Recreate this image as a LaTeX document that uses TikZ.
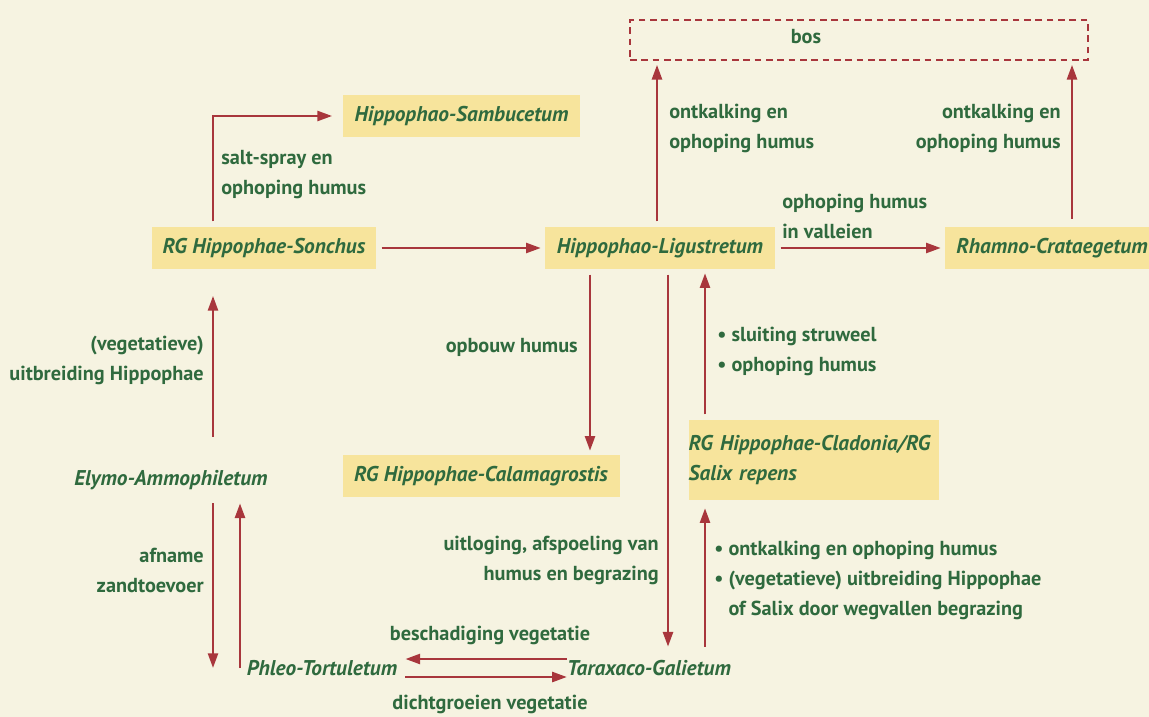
\documentclass[tikz,border=0pt]{standalone}
\usepackage{fontspec}
\setmainfont{PT Sans}
\usetikzlibrary{arrows.meta,positioning}
\definecolor{paper}{HTML}{F6F3E1}
\definecolor{vegfill}{HTML}{F7E49C}
\definecolor{leaf}{HTML}{2F6A3E}
\definecolor{rust}{HTML}{A8363C}
\newcommand{\duinfont}{\fontsize{15.2}{22.5}\selectfont\bfseries}
\newcommand{\typefont}{\fontsize{16}{22.5}\selectfont\bfseries\itshape}
\tikzset{
  veg/.style={fill=vegfill,text=leaf,font=\typefont,inner sep=0pt,minimum height=31.5pt},
  vname/.style={text=leaf,font=\typefont,inner sep=0pt},
  vnote/.style={text=leaf,inner sep=0pt},
  vbos/.style={draw=rust,line width=1.3pt,dash pattern=on 5pt off 3.5pt,minimum width=343.5pt,minimum height=30pt,inner sep=0pt},
  varr/.style={-{Triangle[length=11pt,width=7.5pt]},line width=1.8pt,draw=rust,shorten <=4pt,shorten >=3pt}
}

\begin{document}
\begin{tikzpicture}[x=0.75pt,y=-0.75pt,font=\duinfont]
  \fill[paper] (0,0) rectangle (1149,717);
  \useasboundingbox (0,0) rectangle (1149,717);

  % columns of the vertical arrows
  \coordinate (colA) at (213,0);
  \coordinate (colB) at (240,0);
  \coordinate (colC) at (590,0);
  \coordinate (colD) at (657,0);
  \coordinate (colE) at (668,0);
  \coordinate (colF) at (705,0);
  \coordinate (colG) at (1072,0);

  % vegetation types
  \node[vbos] (bos) at (859,40) {};
  \node[vnote] (boslbl) at (806,37) {bos};
  \node[veg,minimum width=177.75pt] (sambu) at (461.5,116) {Hippophao-Sambucetum};
  \node[veg,minimum width=168pt] (sonchus) at (264,248) {RG Hippophae-Sonchus};
  \node[veg,minimum width=172.5pt] (lig) at (660,248) {Hippophao-Ligustretum};
  \node[veg,minimum width=160.5pt] (rhamno) at (1052,248) {Rhamno-Crataegetum};
  \node[veg,minimum width=207.75pt] (calam) at (481,476) {RG Hippophae-Calamagrostis};
  \node[veg,minimum height=60pt,text width=188pt,align=left] (clad) at (814,460)
    {RG Hippophae-Cladonia/RG\\Salix repens};
  \node[vname] (elymo) at (171,480) {Elymo-Ammophiletum};
  \node[vname] (phleo) at (322,668) {Phleo-Tortuletum};
  \node[vname] (tarax) at (649,668) {Taraxaco-Galietum};

  % processes
  \node[vnote,anchor=west,align=left] (salt) at (221,175) {salt-spray en\\ophoping humus};
  \node[vnote,anchor=west,align=left] (ontkA) at (669,128) {ontkalking en\\ophoping humus};
  \node[vnote,anchor=east,align=right] (ontkB) at (1061,128) {ontkalking en\\ophoping humus};
  \node[vnote,anchor=west,align=left] (vall) at (782,216) {ophoping humus\\in valleien};
  \node[vnote,anchor=east] (opbouw) at (578,347) {opbouw humus};
  \node[vnote,anchor=east,align=right] (uitl) at (659,560) {uitloging, afspoeling van\\humus en begrazing};
  \node[vnote,anchor=west,align=left] (sluit) at (717,351) {\textbullet\ sluiting struweel\\\textbullet\ ophoping humus};
  \node[vnote,anchor=west,align=left] (ontkC) at (714,580)
    {\textbullet\ ontkalking en ophoping humus\\\textbullet\ (vegetatieve) uitbreiding Hippophae\\\phantom{\textbullet\ }of Salix door wegvallen begrazing};
  \node[vnote,anchor=east,align=right] (uitbr) at (204,360) {(vegetatieve)\\uitbreiding Hippophae};
  \node[vnote,anchor=east,align=right] (afname) at (204,570) {afname\\zandtoevoer};
  \node[vnote] (besch) at (490,635) {beschadiging vegetatie};
  \node[vnote] (dicht) at (490,704) {dichtgroeien vegetatie};

  % succession arrows
  \draw[varr,shorten >=8pt] (sonchus.north -| colA) |- (sambu.west);
  \draw[varr] (sonchus.east) -- (lig.west);
  \draw[varr] (lig.east) -- (rhamno.west);
  \draw[varr] (lig.north -| colD) -- (bos.south -| colD);
  \draw[varr,shorten <=6pt] (rhamno.north -| colG) -- (bos.south -| colG);
  \draw[varr] (lig.south -| colC) -- (calam.north -| colC);
  \draw[varr,shorten >=10pt] (lig.south -| colE) -- (tarax.north -| colE);
  \draw[varr] (clad.north -| colF) -- (lig.south -| colF);
  \draw[varr,shorten <=10pt,shorten >=6pt] (tarax.north -| colF) -- (clad.south -| colF);
  \draw[varr,shorten <=25pt,shorten >=20pt] (elymo.north -| colA) -- (sonchus.south -| colA);
  \draw[varr,shorten <=10pt,shorten >=0pt] (elymo.south -| colA) -- (phleo.west -| colA);
  \draw[varr,shorten <=0pt,shorten >=10pt] (phleo.west -| colB) -- (elymo.south -| colB);
  \draw[varr,shorten <=0pt,shorten >=6pt] ([yshift=6.75pt]tarax.west) -- ([yshift=6.75pt]phleo.east);
  \draw[varr,shorten <=6pt,shorten >=0pt] ([yshift=-6.75pt]phleo.east) -- ([yshift=-6.75pt]tarax.west);
\end{tikzpicture}
\end{document}
